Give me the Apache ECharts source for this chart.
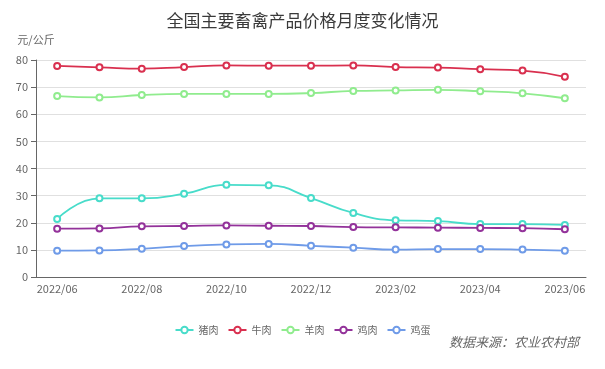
<!DOCTYPE html>
<html><head><meta charset="utf-8">
<script src="https://cdn.jsdelivr.net/npm/echarts@6/dist/echarts.min.js"></script>
<style>html,body{margin:0;padding:0;background:#fff}#c{width:605px;height:369px}</style>
</head><body><div id="c"></div>
<script>
var months = ['2022/06','2022/07','2022/08','2022/09','2022/10','2022/11','2022/12','2023/01','2023/02','2023/03','2023/04','2023/05','2023/06'];
var pork    = [21.4, 29.0, 29.0, 30.7, 34.0, 33.8, 29.1, 23.6, 20.9, 20.6, 19.5, 19.5, 19.2];
var beef    = [77.8, 77.3, 76.8, 77.4, 78.0, 77.9, 77.9, 78.0, 77.4, 77.2, 76.6, 76.1, 73.8];
var mutton  = [66.7, 66.2, 67.1, 67.5, 67.5, 67.5, 67.8, 68.6, 68.8, 69.0, 68.5, 67.7, 65.9];
var chicken = [17.8, 17.9, 18.7, 18.8, 19.0, 18.9, 18.8, 18.4, 18.3, 18.2, 18.1, 18.0, 17.6];
var eggs    = [9.7, 9.8, 10.4, 11.4, 12.0, 12.2, 11.5, 10.8, 10.1, 10.3, 10.3, 10.1, 9.7];
var names = ['猪肉','牛肉','羊肉','鸡肉','鸡蛋'];
var colors = ['#48dcca','#d9304f','#90ec8e','#93329a','#6f9be8'];
var datas = [pork, beef, mutton, chicken, eggs];

var chart = echarts.init(document.getElementById('c'));
chart.setOption({
  animation:false,
  color: colors,
  textStyle:{fontFamily:'"Noto Sans CJK SC", "Noto Sans", sans-serif'},
  title:{text:'全国主要畜禽产品价格月度变化情况', left:'center', top:7,
    textStyle:{fontSize:17, fontWeight:'normal', color:'#3a3a3a'}},
  legend:{top:320, left:'center', itemWidth:18, itemHeight:8, itemGap:9,
    textStyle:{fontSize:10, color:'#666'}, data:names},
  graphic:[{type:'text', right:26, top:336, style:{text:'数据来源：农业农村部', font:'italic 13px "Noto Sans CJK SC", sans-serif', fill:'#666'}}],
  grid:{left:36, right:19, top:60, bottom:92},
  xAxis:{type:'category', data:months, boundaryGap:true,
    axisLine:{lineStyle:{color:'#666'}},
    axisTick:{interval:1, lineStyle:{color:'#666'}},
    axisLabel:{interval:1, color:'#666', fontSize:11, margin:6}},
  yAxis:{type:'value', min:0, max:80, interval:10, name:'元/公斤',
    nameTextStyle:{color:'#666', fontSize:11, padding:[0,0,0,0]},
    axisLine:{show:true, lineStyle:{color:'#666'}},
    axisTick:{show:true, lineStyle:{color:'#666'}},
    axisLabel:{color:'#666', fontSize:11},
    splitLine:{lineStyle:{color:'#e0e0e0'}}},
  series: names.map(function(n,i){return {name:n, type:'line', smooth:true, data:datas[i],
    symbol:'emptyCircle', symbolSize:6, itemStyle:{borderWidth:1.5}, lineStyle:{width:1.8}};})
});
</script></body></html>
